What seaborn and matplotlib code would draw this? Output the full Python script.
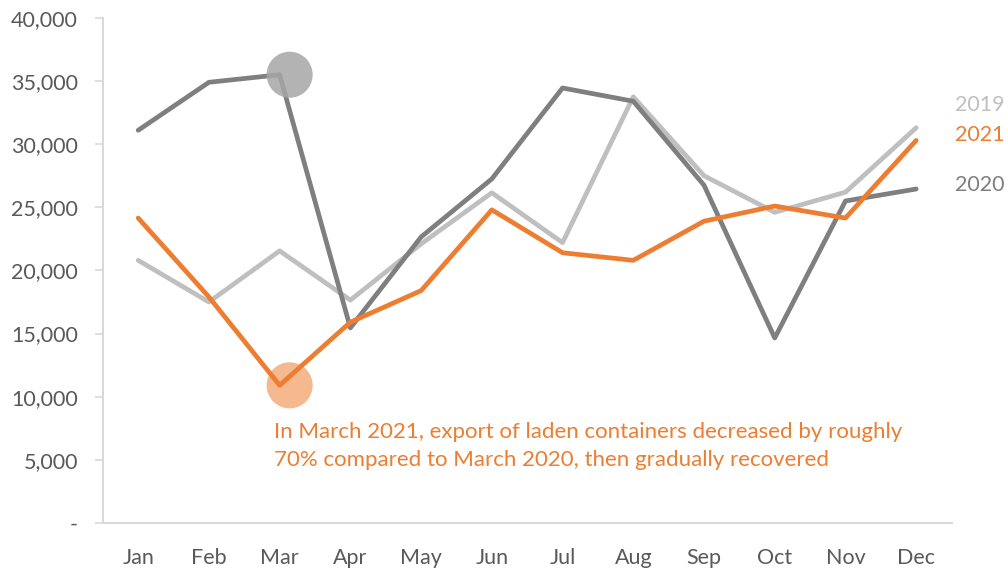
import pandas as pd
import seaborn as sns
import matplotlib.pyplot as plt
import matplotlib.transforms as mtransforms
from matplotlib.ticker import FuncFormatter

months = ['Jan', 'Feb', 'Mar', 'Apr', 'May', 'Jun',
          'Jul', 'Aug', 'Sep', 'Oct', 'Nov', 'Dec']
vals_2019 = [20800, 17500, 21550, 17650, 22100, 26150,
             22200, 33750, 27500, 24600, 26200, 31300]
vals_2020 = [31100, 34900, 35500, 15450, 22650, 27250,
             34450, 33400, 26750, 14650, 25500, 26450]
vals_2021 = [24150, 17900, 10900, 15900, 18400, 24800,
             21400, 20800, 23900, 25100, 24150, 30300]

colors = {'2019': '#BFBFBF', '2020': '#7F7F7F', '2021': '#ED7D31'}

# long format for seaborn
df = pd.DataFrame({
    'month': months * 3,
    'value': vals_2019 + vals_2020 + vals_2021,
    'year': ['2019'] * 12 + ['2020'] * 12 + ['2021'] * 12,
})

sns.set_style('white')
plt.rcParams['font.family'] = ['Lato', 'DejaVu Sans']
fs = 15.5

fig = plt.figure(figsize=(10.08, 5.72), dpi=100)
ax = fig.add_axes([0.102, 0.0857, 0.842, 0.883])

sns.lineplot(data=df, x='month', y='value', hue='year', palette=colors,
             hue_order=['2019', '2020', '2021'], linewidth=3.4,
             legend=False, ax=ax, sort=False)

# highlight March of 2020 and 2021
mar = months.index('Mar')
shift = mtransforms.offset_copy(ax.transData, fig=fig, x=10, y=0, units='dots')
ax.scatter([months[mar]], [vals_2020[mar]], s=1100, color='#A6A6A6',
           alpha=0.85, edgecolors='none', zorder=5, transform=shift)
ax.scatter([months[mar]], [vals_2021[mar]], s=1100, color='#F4B183',
           alpha=0.9, edgecolors='none', zorder=1, transform=shift)

ax.set_xlim(-0.5, 11.5)
ax.set_ylim(0, 40000)
ax.set_yticks(range(0, 40001, 5000))
ax.yaxis.set_major_formatter(FuncFormatter(lambda v, p: '-' if v == 0 else f'{int(v):,}'))
ax.set_xlabel('')
ax.set_ylabel('')

for s in ['top', 'right']:
    ax.spines[s].set_visible(False)
for s in ['left', 'bottom']:
    ax.spines[s].set_color('#D9D9D9')
    ax.spines[s].set_linewidth(1.5)
ax.tick_params(axis='y', length=6, width=1.2, color='#D9D9D9', labelsize=fs,
               labelcolor='#595959', pad=12, left=True)
ax.tick_params(axis='x', length=0, labelsize=fs, labelcolor='#595959', pad=18)

# series labels at the right
ax.text(11.55, 33100, '2019', color=colors['2019'], fontsize=fs, va='center', clip_on=False)
ax.text(11.55, 30700, '2021', color=colors['2021'], fontsize=fs, va='center', clip_on=False)
ax.text(11.55, 26800, '2020', color=colors['2020'], fontsize=fs, va='center', clip_on=False)

ax.text(1.92, 6100,
        'In March 2021, export of laden containers decreased by roughly\n'
        '70% compared to March 2020, then gradually recovered',
        color='#ED7D31', fontsize=16, va='center', ha='left', linespacing=1.5)

plt.savefig('out.png', dpi=100)
